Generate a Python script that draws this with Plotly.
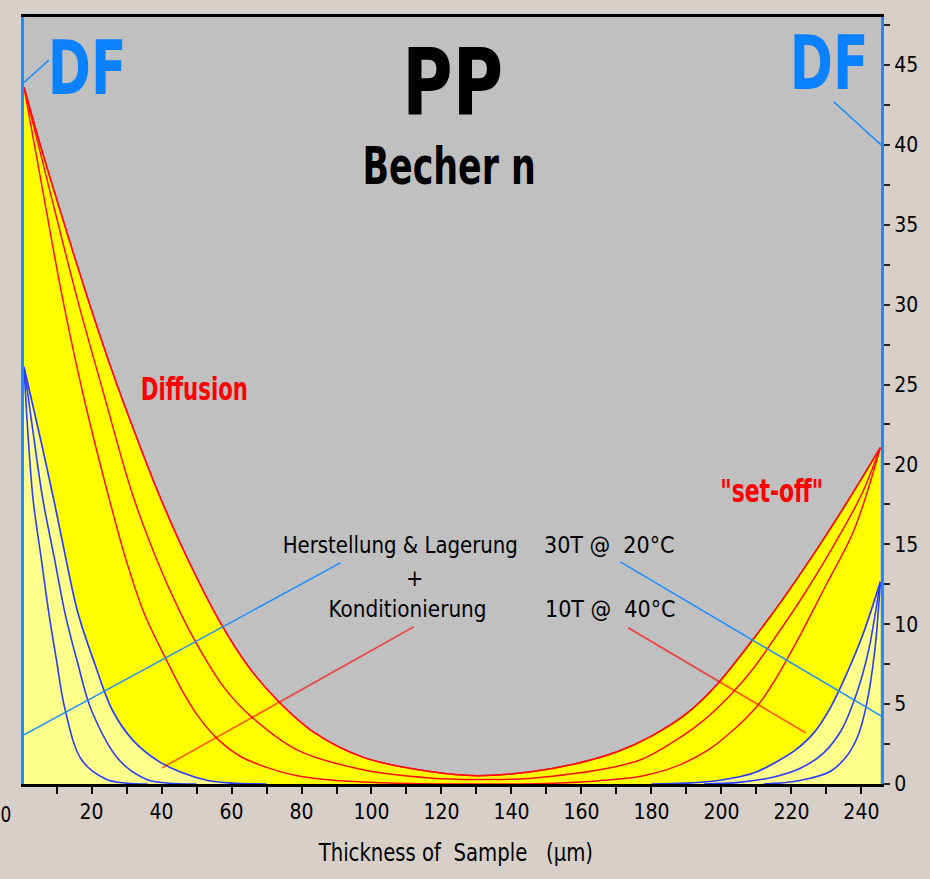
import plotly.graph_objects as go

# ---------------- data ----------------
# red diffusion / set-off profiles (outer = R1 ... inner = R3)
r1_x = [0.7, 6, 12, 18.6, 25, 32, 39.3, 47, 56.8, 65, 73.3, 83.8, 97.9, 116.7, 130, 145, 158, 170, 180, 190, 198.6, 208.5, 217, 226.4, 235.8, 245.4]
r1_y = [43.6, 39.5, 35.2, 30.6, 26.4, 22.2, 18.1, 14.3, 10.1, 7.3, 5.2, 3.2, 1.65, 0.78, 0.52, 0.75, 1.25, 2.0, 3.0, 4.4, 6.2, 8.9, 11.4, 14.4, 17.6, 21.05]

r2_x = [0.7, 8, 16, 23.5, 31.6, 38.7, 45, 51, 58, 65.7, 79, 97.9, 116.7, 130, 145, 158, 170, 177.3, 186.7, 195, 203.1, 209, 214.5, 224, 234.1, 240, 245.4]
r2_y = [43.6, 37.2, 30.3, 24.4, 18.2, 14.0, 10.9, 8.4, 6.0, 4.2, 2.1, 0.88, 0.38, 0.28, 0.35, 0.65, 1.1, 1.55, 2.7, 4.0, 5.7, 7.2, 8.9, 12.0, 15.7, 18.1, 21.05]

r3_x = [0.7, 6, 11.8, 18, 25.1, 29.9, 35, 41.3, 46, 50.6, 55.4, 62, 69.6, 78, 88.3, 105, 125, 150, 165, 177.3, 187, 196, 203, 210.3, 215, 222.7, 230, 237.9, 245.4]
r3_y = [43.6, 37.2, 30.3, 24.0, 17.8, 14.0, 10.7, 7.8, 5.8, 4.2, 2.95, 1.8, 1.07, 0.55, 0.25, 0.06, 0.0, 0.03, 0.2, 0.5, 1.1, 2.1, 3.3, 4.9, 6.4, 9.4, 12.5, 15.9, 21.05]

# blue profiles, left side (outer = B1 ... inner = B3)
b1_x = [0.7, 5.2, 9.5, 12.3, 16, 20.8, 26, 32, 39.3, 46, 52.6, 60, 70]
b1_y = [26.1, 21.8, 17.5, 14.5, 10.8, 7.6, 4.6, 2.7, 1.4, 0.7, 0.25, 0.05, 0.0]
b2_x = [0.7, 3.3, 6.1, 9.5, 12.5, 16.0, 20.0, 27.9, 35.6, 42, 50]
b2_y = [26.1, 22.0, 17.8, 14.0, 10.6, 7.6, 4.6, 1.5, 0.3, 0.05, 0.0]
b3_x = [0.7, 1.8, 3.3, 5.7, 7.8, 10.1, 12.3, 17.2, 24.2, 30, 36]
b3_y = [26.1, 22.0, 17.8, 14.0, 10.7, 7.6, 4.8, 1.5, 0.3, 0.05, 0.0]

# blue profiles, right side
b1r_x = [180, 190, 200, 209.4, 215, 221, 226.4, 231.2, 235.8, 240.5, 245.4]
b1r_y = [0.0, 0.05, 0.25, 0.7, 1.3, 2.1, 3.2, 4.8, 6.9, 9.4, 12.65]
b2r_x = [195, 205, 215, 222.7, 229, 234.1, 237.2, 240, 242.2, 245.4]
b2r_y = [0.0, 0.1, 0.44, 1.0, 1.9, 3.3, 4.8, 6.6, 8.5, 12.65]
b3r_x = [212, 222, 231.2, 236, 239, 241.4, 243.8, 245.4]
b3r_y = [0.0, 0.2, 0.8, 1.8, 3.0, 4.9, 8.3, 12.65]

# pointer lines (data coordinates)
ptr_blue_left = ([0.7, 91.2], [3.07, 13.85])
ptr_blue_right = ([171.1, 245.6], [13.9, 4.26])
ptr_red_left = ([40.1, 112.1], [1.0, 9.84])
ptr_red_right = ([173.4, 224.1], [9.77, 3.2])
ptr_df_left = ([0.7, 7.8], [43.9, 45.3])
ptr_df_right = ([232.1, 245.6], [42.7, 40.0])

x_ticks = [20, 40, 60, 80, 100, 120, 140, 160, 180, 200, 220, 240]
x_minor = [10, 30, 50, 70, 90, 110, 130, 150, 170, 190, 210, 230]
y_ticks = [0, 5, 10, 15, 20, 25, 30, 35, 40, 45]

# ---------------- styling ----------------
FONT = "DejaVu Sans Condensed, DejaVu Sans, Liberation Sans, Arial, sans-serif"
YELLOW = "#ffff00"
PALE = "#ffff8c"
RED = "#ff1010"
BLUE = "#2a3cff"
AZURE = "#1a8cff"
DFBLUE = "#0a82ff"

W, H = 930, 879
ML, MR, MT, MB = 24, 42, 17, 95
PW, PH = W - ML - MR, H - MT - MB


def px(xp):
    return (xp - ML) / PW


def py(yp):
    return (H - MB - yp) / PH


LS = dict(shape="spline", smoothing=1.0)

fig = go.Figure()

# fills
fig.add_trace(go.Scatter(x=r1_x, y=r1_y, mode="lines", line=dict(color=RED, width=1.5, **LS),
                         fill="tozeroy", fillcolor=YELLOW, hoverinfo="skip"))
fig.add_trace(go.Scatter(x=b1_x, y=b1_y, mode="lines", line=dict(color=BLUE, width=1.7, **LS),
                         fill="tozeroy", fillcolor=PALE, hoverinfo="skip"))
fig.add_trace(go.Scatter(x=b1r_x, y=b1r_y, mode="lines", line=dict(color=BLUE, width=1.7, **LS),
                         fill="tozeroy", fillcolor=PALE, hoverinfo="skip"))

# remaining lines
for xs, ys, c in [(r2_x, r2_y, RED), (r3_x, r3_y, RED), (r1_x, r1_y, RED),
                  (b2_x, b2_y, BLUE), (b3_x, b3_y, BLUE), (b2r_x, b2r_y, BLUE), (b3r_x, b3r_y, BLUE)]:
    fig.add_trace(go.Scatter(x=xs, y=ys, mode="lines", hoverinfo="skip",
                             line=dict(color=c, width=1.6 if c == BLUE else 1.5, **LS)))

# pointer lines
for (xs, ys) in [ptr_blue_left, ptr_blue_right, ptr_df_left, ptr_df_right]:
    fig.add_trace(go.Scatter(x=xs, y=ys, mode="lines", hoverinfo="skip", line=dict(color=AZURE, width=1.5)))
for (xs, ys) in [ptr_red_left, ptr_red_right]:
    fig.add_trace(go.Scatter(x=xs, y=ys, mode="lines", hoverinfo="skip", opacity=0.6,
                             line=dict(color="#ff0000", width=1.8)))

ann = []
squeeze = []


def text(t, xp, yp, size, color="black", bold=False, sx=1.0):
    ann.append(dict(text=(f"<b>{t}</b>" if bold else t), x=px(xp), y=py(yp), xref="paper", yref="paper",
                    xanchor="center", yanchor="middle", showarrow=False,
                    font=dict(family=FONT, size=size, color=color)))
    squeeze.append(sx)


text("DF", 88, 68, 75, DFBLUE, True, 0.77)
text("DF", 836, 63, 75, DFBLUE, True, 0.77)
text("PP", 456, 82, 92, "black", True, 0.83)
text("Becher n", 452, 167, 51, "black", True, 0.76)
text("Diffusion", 196, 389, 32, "#ff0000", True, 0.74)
text("\"set-off\"", 778, 491, 32, "#ff0000", True, 0.76)
text("Herstellung & Lagerung", 404, 545, 23, sx=0.955)
text("+", 418, 578, 23)
text("Konditionierung", 411, 609, 23, sx=0.97)
text("30T @\u00a0\u00a020°C", 614, 545, 23)
text("10T @\u00a0\u00a040°C", 615, 609, 23)
text("Thickness of\u00a0\u00a0Sample\u00a0\u00a0\u00a0(µm)", 459, 852, 25, sx=0.875)
text("0", 6, 815, 21, sx=0.9)

fig.update_layout(
    width=W, height=H,
    margin=dict(l=ML, r=MR, t=MT, b=MB),
    paper_bgcolor="#d8d0c8",
    plot_bgcolor="#c0c0c0",
    showlegend=False,
    annotations=ann,
    xaxis=dict(range=[0.7, 245.6], tickvals=x_ticks, ticks="outside", ticklen=7, tickwidth=2, tickcolor="black",
               minor=dict(tickvals=x_minor, ticks="outside", ticklen=7, tickwidth=2, tickcolor="black"),
               showgrid=False, zeroline=False, showline=True, linecolor="black", linewidth=2.5, mirror=True,
               tickfont=dict(family=FONT, size=21, color="black")),
    yaxis=dict(range=[0, 48], side="right", tickvals=y_ticks, ticks="outside", ticklen=6, tickwidth=2,
               tickcolor="#222222",
               minor=dict(dtick=2.5, ticks="outside", ticklen=6, tickwidth=2, tickcolor="#222222"),
               showgrid=False, zeroline=False, showline=True, linecolor="#1e88ff", linewidth=3, mirror=True,
               tickfont=dict(family=FONT, size=21, color="black")),
)

js = (
    "var gd = document.getElementById('{plot_id}');\n"
    "var f = " + str(squeeze) + ";\n"
    "function sq(){\n"
    "  var ts = gd.querySelectorAll('g.annotation text.annotation-text');\n"
    "  ts.forEach(function(t, i){ var s = f[i]; if(!s || s === 1) return;\n"
    "    t.style.transformBox = 'fill-box'; t.style.transformOrigin = 'center';\n"
    "    t.style.transform = 'scaleX(' + s + ')'; });\n"
    "}\n"
    "sq();\n"
    "gd.on('plotly_afterplot', sq);\n"
)

fig.write_html("out.html", post_script=js)
